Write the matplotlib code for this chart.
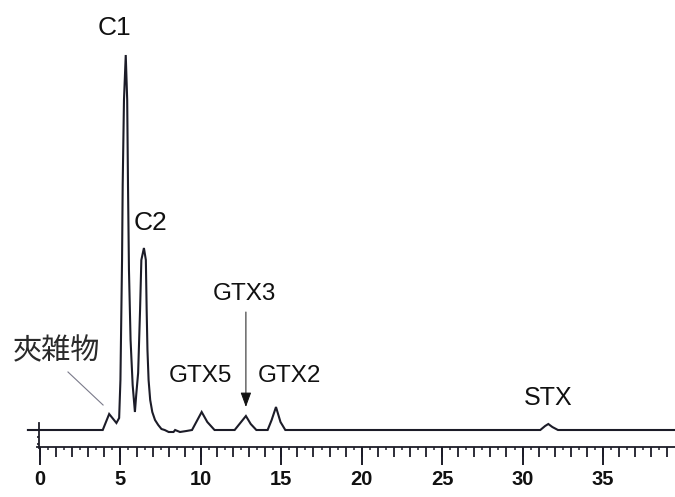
import matplotlib
matplotlib.use("Agg")
import matplotlib.pyplot as plt
import numpy as np
from matplotlib.ticker import FixedLocator, NullFormatter

# Chromatogram trace: retention time (min) and detector signal (arbitrary units)
trace_time = [
    -0.75, 3.90, 4.05, 4.30, 4.50, 4.75, 4.92,
    5.00, 5.05, 5.10, 5.14, 5.22, 5.33, 5.42, 5.47, 5.53, 5.63, 5.76, 5.90,
    5.98, 6.10, 6.22, 6.30, 6.46, 6.58, 6.63, 6.68, 6.75, 6.85, 6.98, 7.15, 7.35, 7.55, 7.75,
    8.00, 8.30, 8.40, 8.70, 9.10, 9.45,
    9.75, 10.05, 10.40, 10.85,
    12.10, 12.45, 12.80, 13.10, 13.45,
    14.15, 14.40, 14.67, 14.95, 15.25,
    31.10, 31.40, 31.60, 31.85, 32.20, 39.50,
]
trace_signal = [
    0, 0, 6, 16, 12, 7, 12,
    50, 110, 170, 245, 330, 375, 330, 245, 160, 90, 45, 18,
    35, 57, 120, 170, 182, 170, 120, 80, 50, 30, 18, 10, 5, 1, 0,
    -2, -2, 0, -2, -1, 0,
    9, 18, 8, 0,
    0, 7, 14, 6, 0,
    0, 10, 23, 8, 0,
    0, 4, 6, 3, 0, 0,
]

# Peak annotations: label, x, baseline y of text, font size
peak_labels = ["C1", "C2", "GTX3", "GTX5", "GTX2", "STX"]
peak_label_x = [4.62, 6.84, 12.72, 9.98, 15.48, 31.58]
peak_label_y = [395, 200, 130, 48, 48, 25]
peak_label_size = [19, 19, 17.5, 17.5, 17.5, 18]

impurity_label = "夾雑物"
gtx3_time = 12.80

x_major = [0, 5, 10, 15, 20, 25, 30, 35]
x_labels = ["0", "5", "10", "15", "20", "25", "30", "35"]

ink = "#1c1c28"

fig = plt.figure(figsize=(6.75, 4.97), dpi=100)
ax = fig.add_axes([0, 0, 1, 1])
ax.set_xlim(-2.487, 39.475)
ax.set_ylim(-67, 430)

ax.plot(trace_time, trace_signal, color=ink, lw=1.5, solid_joinstyle="miter")

# Time axis below the trace
axis_y = -17
for s in ("top", "right"):
    ax.spines[s].set_visible(False)
ax.spines["bottom"].set_position(("data", axis_y))
ax.spines["bottom"].set_bounds(-0.2, 39.5)
ax.spines["bottom"].set_linewidth(1.3)
ax.spines["bottom"].set_color(ink)

ax.xaxis.set_major_locator(FixedLocator(np.arange(0, 39.6, 1.0)))
ax.xaxis.set_minor_locator(FixedLocator(np.arange(0.5, 39.6, 1.0)))
ax.xaxis.set_major_formatter(NullFormatter())
ax.tick_params(axis="x", which="major", direction="out", length=7.5, width=1.3, color=ink)
ax.tick_params(axis="x", which="minor", direction="out", length=2.5, width=1.1, color=ink)

sec = ax.secondary_xaxis((axis_y + 67) / 497)
sec.set_xticks(x_major)
sec.set_xticklabels(x_labels)
sec.spines["bottom"].set_visible(False)
sec.tick_params(axis="x", direction="out", length=13, width=1.4, color=ink, pad=3.5)
for lab in sec.get_xticklabels():
    lab.set_family("Liberation Sans")
    lab.set_fontweight("bold")
    lab.set_fontsize(14.5)
    lab.set_color("#111111")

# Short signal axis stub at t = 0
ax.spines["left"].set_position(("data", -0.05))
ax.spines["left"].set_bounds(-18, 7)
ax.spines["left"].set_linewidth(1.3)
ax.spines["left"].set_color(ink)
ax.yaxis.set_major_locator(FixedLocator([-7, -14]))
ax.yaxis.set_major_formatter(NullFormatter())
ax.tick_params(axis="y", direction="out", length=1.5, width=1.2, color=ink)

# Peak names
for name, px, py, fs in zip(peak_labels, peak_label_x, peak_label_y, peak_label_size):
    ax.text(px, py, name, ha="center", va="baseline", fontsize=fs,
            family="Liberation Sans", color="#111111")

# Impurity label with leader line
ax.text(1.03, 78.5, impurity_label, ha="center", va="center", fontsize=21,
        family=["Noto Sans CJK JP", "DejaVu Sans"], color="#2a2a2a")
ax.plot([1.74, 3.92], [58, 25], color="#7a7a8a", lw=0.8)

# Arrow pointing at GTX3
ax.annotate("", xy=(gtx3_time, 23), xytext=(gtx3_time, 118),
            arrowprops=dict(arrowstyle="-|>,head_length=0.6,head_width=0.22",
                            mutation_scale=15, color="#111111", lw=0.7,
                            shrinkA=0, shrinkB=0))

fig.savefig("out.png", dpi=100)
